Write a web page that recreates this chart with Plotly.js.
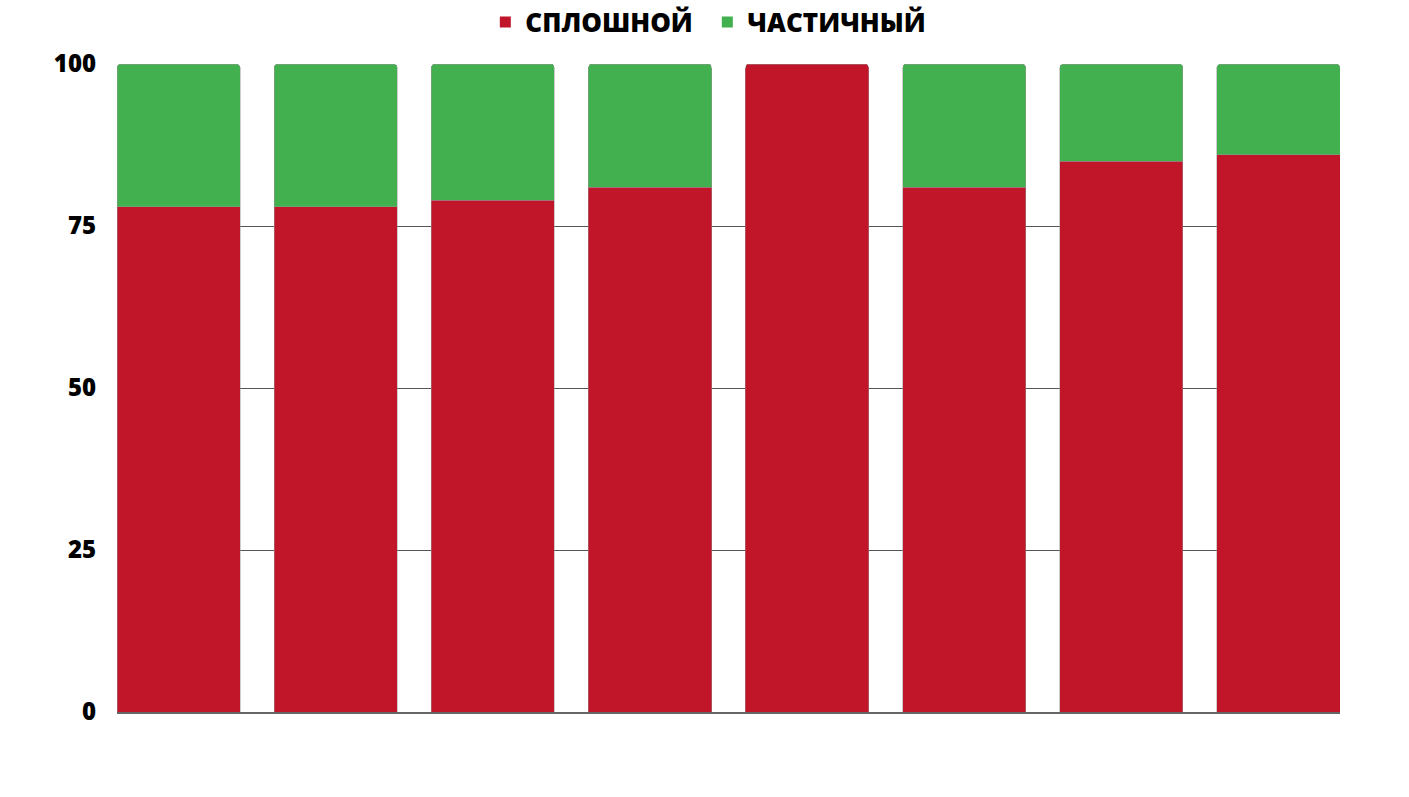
<!DOCTYPE html>
<html>
<head>
<meta charset="utf-8">
<script src="https://cdn.plot.ly/plotly-3.0.1.min.js"></script>
<style>html,body{margin:0;padding:0;background:#fff;}#chart{width:1409px;height:797px;}</style>
</head>
<body>
<div id="chart"></div>
<script>
const categories = ['1', '2', '3', '4', '5', '6', '7', '8'];
const seriesNames = ['СПЛОШНОЙ', 'ЧАСТИЧНЫЙ'];
const solidValues = [78, 78, 79, 81, 100, 81, 85, 86];
const partialValues = [22, 22, 21, 19, 0, 19, 15, 14];
const yTickValues = [0, 25, 50, 75, 100];

const redColor = '#C1152A';
const greenColor = '#43B04F';
const seriesColors = [redColor, greenColor];
const seriesValues = [solidValues, partialValues];

const traces = [];
seriesValues.forEach((vals, i) => {
  traces.push({
    type: 'bar', name: seriesNames[i], x: categories,
    // an empty segment is left out so the bar below it gets the rounded top
    y: vals.map(v => (v === 0 ? null : v)),
    marker: {color: seriesColors[i], line: {color: 'rgba(150,150,150,0.8)', width: 0.6}},
    showlegend: false, hoverinfo: 'y'
  });
});
// legend-only entries with small square markers
seriesNames.forEach((name, i) => {
  traces.push({
    type: 'scatter', mode: 'markers', name: name, x: [null], y: [null],
    marker: {symbol: 'square', size: 11, color: seriesColors[i]},
    showlegend: true, hoverinfo: 'skip'
  });
});

const layout = {
  width: 1409, height: 797,
  margin: {l: 117, r: 69, t: 64, b: 85},
  paper_bgcolor: '#fff', plot_bgcolor: '#fff',
  barmode: 'stack',
  bargap: 0.216,
  barcornerradius: 4,
  font: {family: '"Open Sans", sans-serif', color: '#000'},
  showlegend: true,
  legend: {
    orientation: 'h', xref: 'container', yref: 'container',
    x: 0.502, xanchor: 'center', y: 1 - 22 / 797, yanchor: 'middle',
    traceorder: 'normal',
    font: {size: 26, family: '"Open Sans", sans-serif', weight: 800, color: '#000'},
    itemwidth: 30, entrywidth: 177
  },
  xaxis: {
    type: 'category', range: [-0.392, 7.392],
    showticklabels: false, ticks: '', showgrid: false, zeroline: false,
    showline: true, linecolor: '#666', linewidth: 1.5, fixedrange: true
  },
  yaxis: {
    range: [0, 100], tickvals: yTickValues, ticktext: yTickValues.map(String),
    showgrid: true, gridcolor: '#555', gridwidth: 1, zeroline: false,
    ticks: '', ticklabelstandoff: 20,
    tickfont: {size: 24, family: '"Open Sans", sans-serif', weight: 800, color: '#000'},
    showline: false, fixedrange: true
  }
};

Plotly.newPlot('chart', traces, layout, {displayModeBar: false, staticPlot: true});
</script>
</body>
</html>
